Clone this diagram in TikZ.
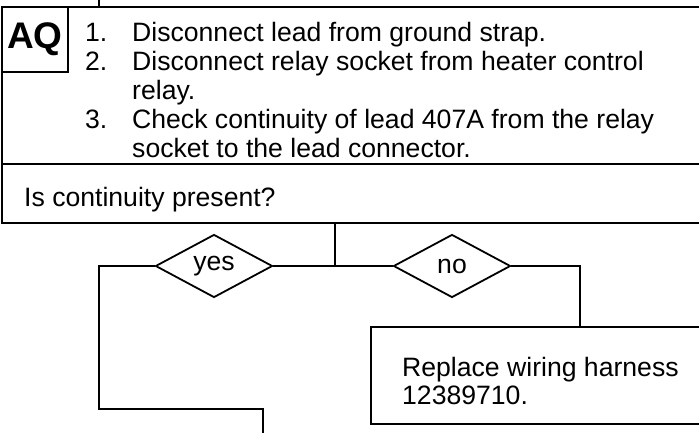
\documentclass[tikz,border=0pt]{standalone}
\usepackage{fontspec}
\setmainfont{Liberation Sans}
\usetikzlibrary{shapes.geometric}

\begin{document}
\begin{tikzpicture}[
  x=1pt, y=-1pt,
  font=\fontsize{26.6}{28.8}\selectfont,
  frame/.style={draw, rectangle, line width=2pt, anchor=north west, inner sep=0pt, outer sep=0pt},
  txt/.style={anchor=base west, inner sep=0pt},
  choice/.style={draw, diamond, line width=1.8pt, minimum width=117pt, minimum height=63pt, inner sep=0pt},
  wire/.style={line width=1.8pt}
]
\useasboundingbox (0,0) rectangle (699,433);
\clip (0,0) rectangle (699,433);

% boxes
\node[frame, minimum width=730pt, minimum height=157pt] (steps) at (2,7) {};
\node[frame, minimum width=66pt, minimum height=65pt, font=\fontsize{37}{37}\selectfont\bfseries] (tag) at (2,7) {AQ};
\node[txt] (steplist) at (85,42) {\renewcommand{\arraystretch}{1}%
  \begin{tabular}[t]{@{}p{47pt}@{}l@{}}
  1. & Disconnect lead from ground strap.\\
  2. & Disconnect relay socket from heater control\\
     & relay.\\
  3. & Check continuity of lead 407A from the relay\\
     & socket to the lead connector.
  \end{tabular}};

\node[frame, minimum width=730pt, minimum height=59pt] (query) at (2,164) {};
\node[txt] (querytext) at (24,206) {Is continuity present?};

\node[choice] (yes) at (214,266) {yes};
\node[choice] (no) at (452,266) {no};

\node[frame, minimum width=340pt, minimum height=97pt] (fix) at (371,327) {};
\node[txt] (fixtext) at (402,376) {\renewcommand{\arraystretch}{1}%
  \begin{tabular}[t]{@{}l@{}}
  Replace wiring harness\\
  12389710.
  \end{tabular}};

% connectors
\coordinate (feed) at (99,-5);
\coordinate (split) at (335,266);
\coordinate (bend) at (99,409);
\coordinate (exit) at (263,440);
\coordinate (drop) at (580,0);

\draw[wire] (feed) -- (feed |- steps.north);
\draw[wire] (query.south -| split) -- (split);
\draw[wire] (yes.east) -- (no.west);
\draw[wire] (yes.west) -| (bend) -| (exit);
\draw[wire] (no.east) -| (drop |- fix.north);

\end{tikzpicture}
\end{document}
